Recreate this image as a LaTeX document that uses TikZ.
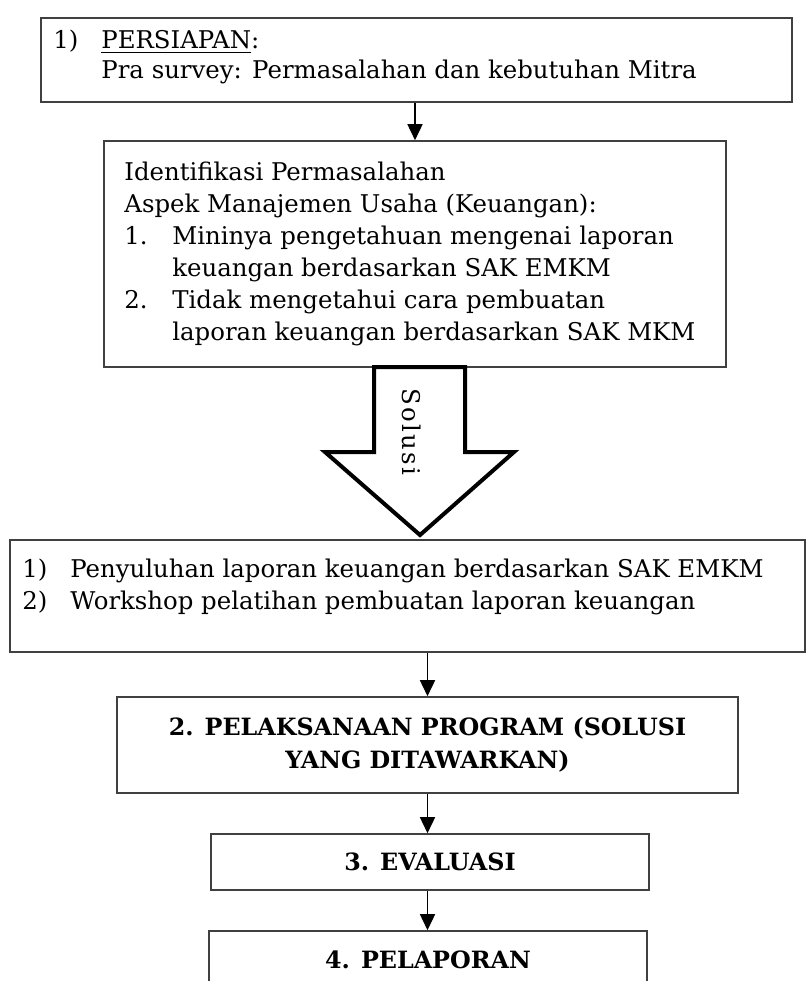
\documentclass[tikz,border=0pt]{standalone}
\usepackage{fontspec}
\setmainfont{DejaVu Serif}
\usetikzlibrary{arrows.meta}
\definecolor{boxline}{HTML}{404040}
\newcommand{\nomor}[1]{\makebox[24pt][l]{#1}}
\newcommand{\lanjut}{\hspace*{24pt}}

\tikzset{
  kotak/.style={draw=boxline,line width=0.8pt,inner sep=0pt},
  isi/.style={inner sep=0pt,anchor=north west,align=left,font=\fontsize{12.2}{16}\selectfont},
  judul/.style={font=\fontsize{11.9}{16.5}\selectfont\bfseries,align=center},
  panah/.style={line width=0.8pt,-{Triangle[length=8pt,width=7.5pt]}}
}

\begin{document}
\begin{tikzpicture}[x=0.5pt,y=-0.5pt]
                      \useasboundingbox (0,0) rectangle (807,981);

                      \node[kotak,minimum width=375.5pt,minimum height=42pt] (persiapan) at (416.5,60) {};
                      \node[isi,font=\fontsize{12.2}{15}\selectfont] (persiapantxt) at (53,27.5) {\strut\nomor{1)}\underline{PERSIAPAN}:\\ \lanjut Pra survey: Permasalahan dan kebutuhan Mitra};

                      \node[kotak,minimum width=311pt,minimum height=113pt] (identifikasi) at (415,254) {};
                      \node[isi] (identifikasitxt) at (124,157.6) {\strut Identifikasi Permasalahan\\ Aspek Manajemen Usaha (Keuangan):\\ \nomor{1.}Mininya pengetahuan mengenai laporan\\ \lanjut keuangan berdasarkan SAK EMKM\\ \nomor{2.}Tidak mengetahui cara pembuatan\\ \lanjut laporan keuangan berdasarkan SAK MKM};

                      \draw[line width=2pt,miter limit=10] (374,367) -- (374,452) -- (325,452) -- (420,535) -- (514,452) -- (465,452) -- (465,367) -- cycle;
                      \node[rotate=-90,inner sep=0pt,font=\fontsize{12.2}{16}\selectfont\addfontfeature{LetterSpace=10}] (solusi) at (412,432) {Solusi};

                      \node[kotak,minimum width=397.5pt,minimum height=56pt] (kegiatan) at (407.5,596) {};
                      \node[isi] (kegiatantxt) at (22,554.6) {\strut\nomor{1)}Penyuluhan laporan keuangan berdasarkan SAK EMKM\\ \nomor{2)}Workshop pelatihan pembuatan laporan keuangan};

                      \node[kotak,judul,minimum width=310.5pt,minimum height=48pt] (pelaksanaan) at (427.5,745) {2. PELAKSANAAN PROGRAM (SOLUSI\\ YANG DITAWARKAN)};
                      \node[kotak,judul,minimum width=219pt,minimum height=28pt] (evaluasi) at (430,862) {3. EVALUASI};
                      \node[kotak,judul,minimum width=219pt,minimum height=29pt] (pelaporan) at (428,960) {4. PELAPORAN};

                      \draw[panah] (persiapan.south -| identifikasi.north) -- (identifikasi.north);
                      \draw[panah] (kegiatan.south -| pelaksanaan.north) -- (pelaksanaan.north);
                      \draw[panah] (pelaksanaan.south) -- (evaluasi.north -| pelaksanaan.south);
                      \draw[panah] (evaluasi.south -| pelaksanaan.south) -- (pelaporan.north -| pelaksanaan.south);
                \end{tikzpicture}
\end{document}
